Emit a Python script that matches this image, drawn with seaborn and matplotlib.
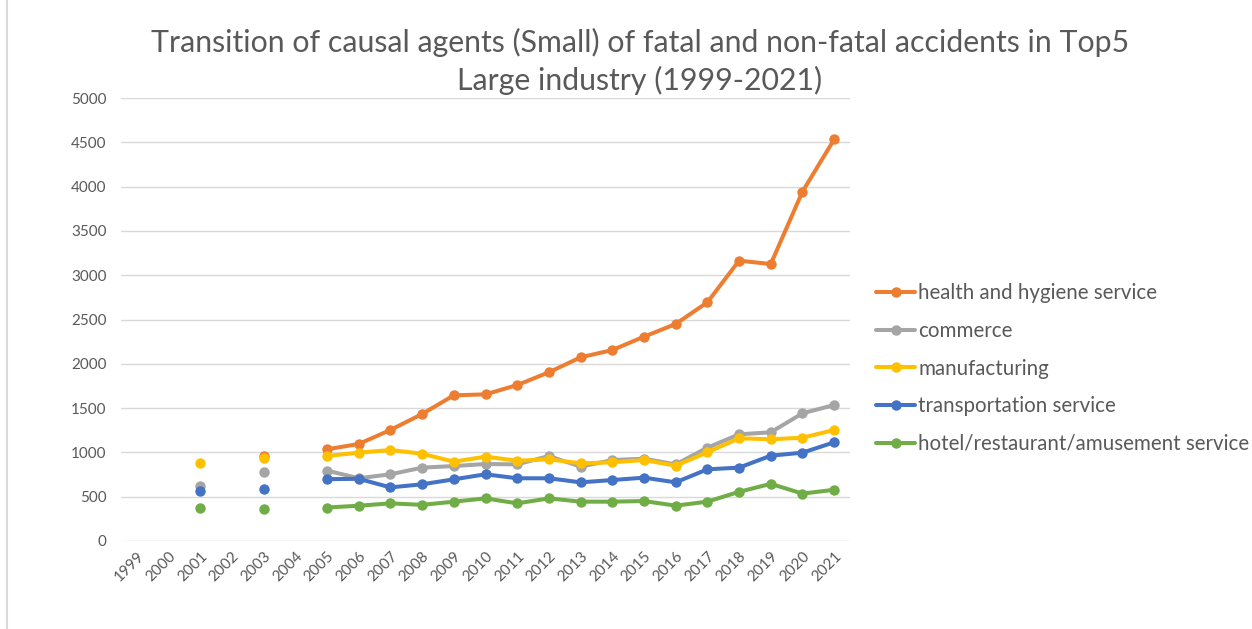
import numpy as np
import pandas as pd
import matplotlib
matplotlib.use("Agg")
import matplotlib.pyplot as plt
import seaborn as sns
from matplotlib.lines import Line2D

# Data (NaN = no value that year)
years = list(range(1999, 2022))
nan = np.nan
health = [nan, nan, nan, nan, 960, nan, 1035, 1095, 1253, 1433, 1644, 1655, 1760, 1904,
          2073, 2155, 2306, 2449, 2694, 3164, 3126, 3943, 4533]
commerce = [nan, nan, 625, nan, 775, nan, 795, 708, 753, 828, 846, 869, 865, 959,
            839, 914, 929, 865, 1053, 1204, 1227, 1441, 1535]
manufacturing = [nan, nan, 875, nan, 940, nan, 960, 997, 1027, 985, 895, 952, 906, 922,
                 877, 888, 914, 850, 1001, 1159, 1148, 1166, 1253]
transportation = [nan, nan, 568, nan, 585, nan, 698, 702, 605, 640, 696, 753, 708, 708,
                  662, 688, 715, 662, 809, 828, 963, 997, 1114]
hotel = [nan, nan, 378, nan, 360, nan, 378, 398, 425, 408, 444, 481, 425, 481,
         444, 444, 451, 399, 444, 555, 645, 535, 578]

series_names = ["health and hygiene service", "commerce", "manufacturing",
                "transportation service", "hotel/restaurant/amusement service"]
series_values = [health, commerce, manufacturing, transportation, hotel]
colors = ["#ED7D31", "#A5A5A5", "#FFC000", "#4472C4", "#70AD47"]

# Build long-form table; split each series into contiguous segments so gaps stay gaps
rows = []
for name, vals in zip(series_names, series_values):
    seg = 0
    prev_nan = True
    for yr, v in zip(years, vals):
        if np.isnan(v):
            prev_nan = True
            continue
        if prev_nan:
            seg += 1
        prev_nan = False
        rows.append({"year": yr, "value": v, "series": name, "segment": f"{name}-{seg}"})
df = pd.DataFrame(rows)

sns.set_theme(style="white")
plt.rcParams["font.family"] = ["Lato", "DejaVu Sans"]

fig = plt.figure(figsize=(12.52, 6.29), dpi=100)
ax = fig.add_axes([121 / 1252, 1 - 541 / 629, (850 - 121) / 1252, (541 - 98) / 629])

sns.lineplot(data=df, x="year", y="value", hue="series", hue_order=series_names,
             palette=colors, units="segment", estimator=None, sort=True,
             marker="o", markersize=7.5, markeredgewidth=0, linewidth=2.9, ax=ax)

# Axes styling like the original
ax.set_xlim(1998.5, 2021.5)
ax.set_ylim(0, 5000)
ax.set_yticks(range(0, 5001, 500))
ax.set_xticks(years)
ax.set_xticklabels([str(y) for y in years], rotation=45, ha="right",
                   rotation_mode="anchor", fontsize=11, color="#595959")
ax.tick_params(axis="y", labelsize=11, labelcolor="#595959", length=0, pad=10.5)
ax.tick_params(axis="x", length=0, pad=6)
ax.grid(axis="y", color="#D9D9D9", linewidth=1)
ax.set_axisbelow(True)
for s in ax.spines.values():
    s.set_visible(False)
ax.set_xlabel("")
ax.set_ylabel("")

# Legend to the right
handles, labels = ax.get_legend_handles_labels()
fig.legend(handles, labels, loc="upper left", bbox_to_anchor=(868 / 1252, 1 - 275 / 629),
           frameon=False, fontsize=14.8, labelcolor="#595959", handlelength=1.9,
           handletextpad=0.15, labelspacing=0.86, borderaxespad=0)
ax.get_legend().remove()

# Title
fig.text(0.511, 1 - 42 / 629, "Transition of causal agents (Small) of fatal and non-fatal accidents in Top5",
         ha="center", va="center", fontsize=21.8, color="#595959")
fig.text(0.511, 1 - 80 / 629, "Large industry (1999-2021)",
         ha="center", va="center", fontsize=21.8, color="#595959")

# Chart border on the left edge, as in the screenshot
fig.lines.append(Line2D([7 / 1252, 7 / 1252], [0, 1], transform=fig.transFigure,
                        color="#D9D9D9", linewidth=1.5))

fig.savefig("out.png", dpi=100)
